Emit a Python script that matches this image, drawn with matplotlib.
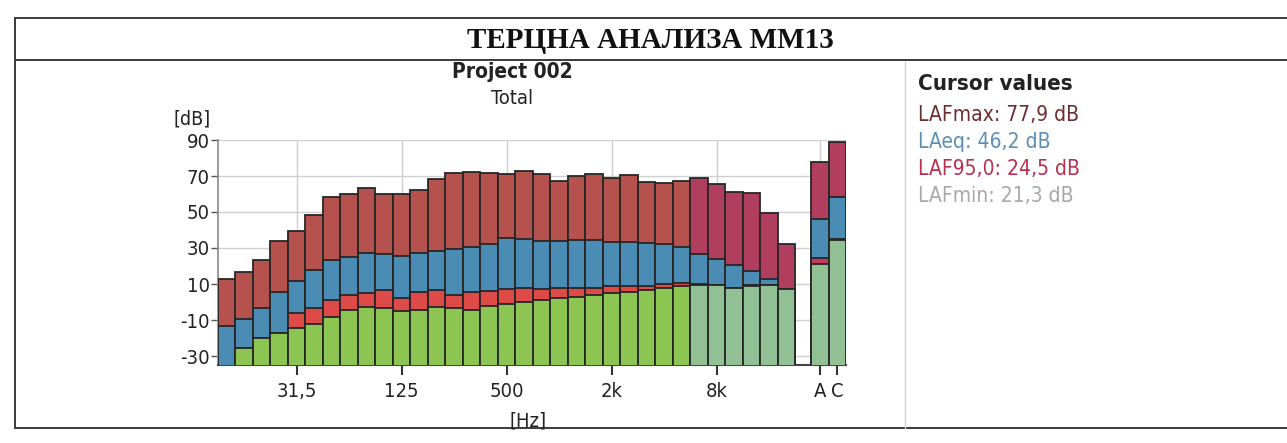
import numpy as np
import matplotlib
matplotlib.use("Agg")
import matplotlib.pyplot as plt
from matplotlib.lines import Line2D

W, H = 1287, 443

# 1/3 octave bands 12.5 Hz .. 20 kHz, then the A and C totals
bands = ["12,5", "16", "20", "25", "31,5", "40", "50", "63", "80", "100", "125",
         "160", "200", "250", "315", "400", "500", "630", "800", "1k", "1,25k",
         "1,6k", "2k", "2,5k", "3,15k", "4k", "5k", "6,3k", "8k", "10k", "12,5k",
         "16k", "20k"]
lafmax = [12.8, 16.6, 23.6, 34.1, 39.2, 48.1, 58.2, 60.2, 63.4, 59.9, 60.1,
          62.0, 68.5, 71.4, 72.1, 71.6, 71.2, 72.6, 71.0, 67.2, 70.1,
          70.9, 68.7, 70.7, 66.7, 66.2, 67.1, 69.1, 65.3, 60.9, 60.6,
          49.2, 32.4]
laeq = [-13.6, -9.3, -3.3, 5.4, 11.5, 18.0, 23.1, 25.1, 27.0, 26.8, 25.5,
        27.5, 28.2, 29.6, 30.3, 32.5, 35.7, 35.0, 33.9, 34.1, 34.7,
        34.5, 33.2, 33.4, 32.7, 32.3, 30.7, 26.9, 23.9, 20.4, 17.0,
        12.8, 7.2]
laf95 = [-38.0, -25.6, -20.2, -17.3, -6.3, -3.3, 1.0, 3.8, 5.2, 6.5, 2.3,
         5.6, 6.4, 3.8, 5.4, 6.2, 7.0, 7.7, 7.0, 7.6, 7.8,
         7.9, 8.7, 8.9, 9.1, 10.2, 10.7, 9.9, 9.5, 7.9, 9.6,
         9.6, 7.0]
lafmin = [-38.0, -25.6, -20.2, -17.3, -14.5, -12.1, -8.2, -4.4, -2.8, -3.5, -4.8,
          -4.7, -2.7, -3.5, -4.3, -2.3, -1.0, -0.1, 1.2, 2.1, 2.8,
          3.9, 5.0, 5.8, 6.6, 8.0, 8.9, 9.7, 9.3, 7.7, 8.8,
          9.2, 7.0]

totals = ["A", "C"]
tot_max = [77.9, 88.9]
tot_eq = [46.2, 58.5]
tot_95 = [24.5, 34.8]
tot_min = [21.3, 34.3]

xtick_bands = ["31,5", "125", "500", "2k", "8k"]
yticks = [90, 70, 50, 30, 10, -10, -30]

legend_lines = ["LAFmax: 77,9 dB", "LAeq: 46,2 dB", "LAF95,0: 24,5 dB", "LAFmin: 21,3 dB"]
legend_cols = ["#6e2e2e", "#5b8fb5", "#b8304f", "#a8a8a8"]

# colours: normal bands, and the highlighted high bands / totals
c_max, c_max2 = "#b5524d", "#b23e5f"
c_eq = "#4a8cb3"
c_95, c_952 = "#de4a47", "#c23a5a"
c_min, c_min2 = "#8cc552", "#92c095"
edge = "#262626"
split = 27  # 6,3k and up drawn in the second palette

font = dict(family="DejaVu Sans", stretch="condensed")

ybase = -40
fig = plt.figure(figsize=(W / 100, H / 100), dpi=100)
fig.patch.set_facecolor("white")


def fx(px):
    return px / W


def fy(py):
    return 1 - py / H


ax = fig.add_axes([fx(218), fy(365), fx(846) - fx(218), fy(140) - fy(365)])

x = np.arange(len(bands))
xt = np.array([33.9, 34.9])
xall = np.concatenate([x, xt])
hi = np.concatenate([x >= split, [True, True]])

vmax = np.array(lafmax + tot_max)
veq = np.array(laeq + tot_eq)
v95 = np.array(laf95 + tot_95)
vmin = np.array(lafmin + tot_min)

layers = [
    (vmax, c_max, c_max2),
    (veq, c_eq, c_eq),
    (v95, c_95, c_952),
    (vmin, c_min, c_min2),
]
for vals, col1, col2 in layers:
    cols = [col2 if h else col1 for h in hi]
    ax.bar(xall, vals - ybase, bottom=ybase, width=1.0, color=cols,
           edgecolor=edge, linewidth=1.3, zorder=3)

ax.set_ylim(-35, 90)
ax.set_xlim(-0.5, 35.4)
ax.set_yticks(yticks)
ax.set_yticklabels([str(v) for v in yticks], **font)
tick_pos = [bands.index(b) for b in xtick_bands] + list(xt)
ax.set_xticks(tick_pos)
ax.set_xticklabels(xtick_bands + totals, **font)

ax.grid(True, color="#cfcfcf", linewidth=1.0, zorder=0)
ax.set_axisbelow(True)
for s in ["top", "right"]:
    ax.spines[s].set_visible(False)
ax.spines["left"].set_color("#8a8a8a")
ax.spines["bottom"].set_color("#444444")
ax.spines["left"].set_linewidth(1.2)
ax.spines["bottom"].set_linewidth(1.5)
ax.tick_params(axis="y", length=5, width=1, color="#555555", pad=1,
               labelsize=14.5, labelcolor="#222222")
ax.tick_params(axis="x", length=7, width=1.5, color="#333333", pad=5,
               labelsize=14.5, labelcolor="#222222")

# page frame of the report
frame = dict(color="#3a3a3a", linewidth=1.4, transform=fig.transFigure)
fig.add_artist(Line2D([fx(15), 1], [fy(18), fy(18)], **frame))
fig.add_artist(Line2D([fx(15), 1], [fy(60), fy(60)], **frame))
fig.add_artist(Line2D([fx(15), 1], [fy(428), fy(428)], **frame))
fig.add_artist(Line2D([fx(15), fx(15)], [fy(18), fy(428)], **frame))
fig.add_artist(Line2D([fx(905), fx(905)], [fy(62), fy(428)],
                      color="#d0d0d0", linewidth=1.0, transform=fig.transFigure))

fig.text(fx(650), fy(40), "ТЕРЦНА АНАЛИЗА ММ13", family="Liberation Serif",
         fontweight="bold", fontsize=21, ha="center", va="center", color="#111111")
fig.text(fx(512), fy(72), "Project 002", fontweight="bold", fontsize=15,
         ha="center", va="center", color="#222222", **font)
fig.text(fx(512), fy(99), "Total", fontsize=14.5, ha="center", va="center",
         color="#222222", **font)
fig.text(fx(192), fy(119), "[dB]", fontsize=14, ha="center", va="center",
         color="#222222", **font)
fig.text(fx(528), fy(421), "[Hz]", fontsize=14.5, ha="center", va="center",
         color="#222222", **font)

fig.text(fx(918), fy(84), "Cursor values", fontweight="bold", fontsize=16,
         ha="left", va="center", color="#222222", **font)
for i, (t, c) in enumerate(zip(legend_lines, legend_cols)):
    fig.text(fx(918), fy(115 + i * 27), t, fontsize=15, ha="left",
             va="center", color=c, **font)

fig.savefig("out.png", dpi=100)
